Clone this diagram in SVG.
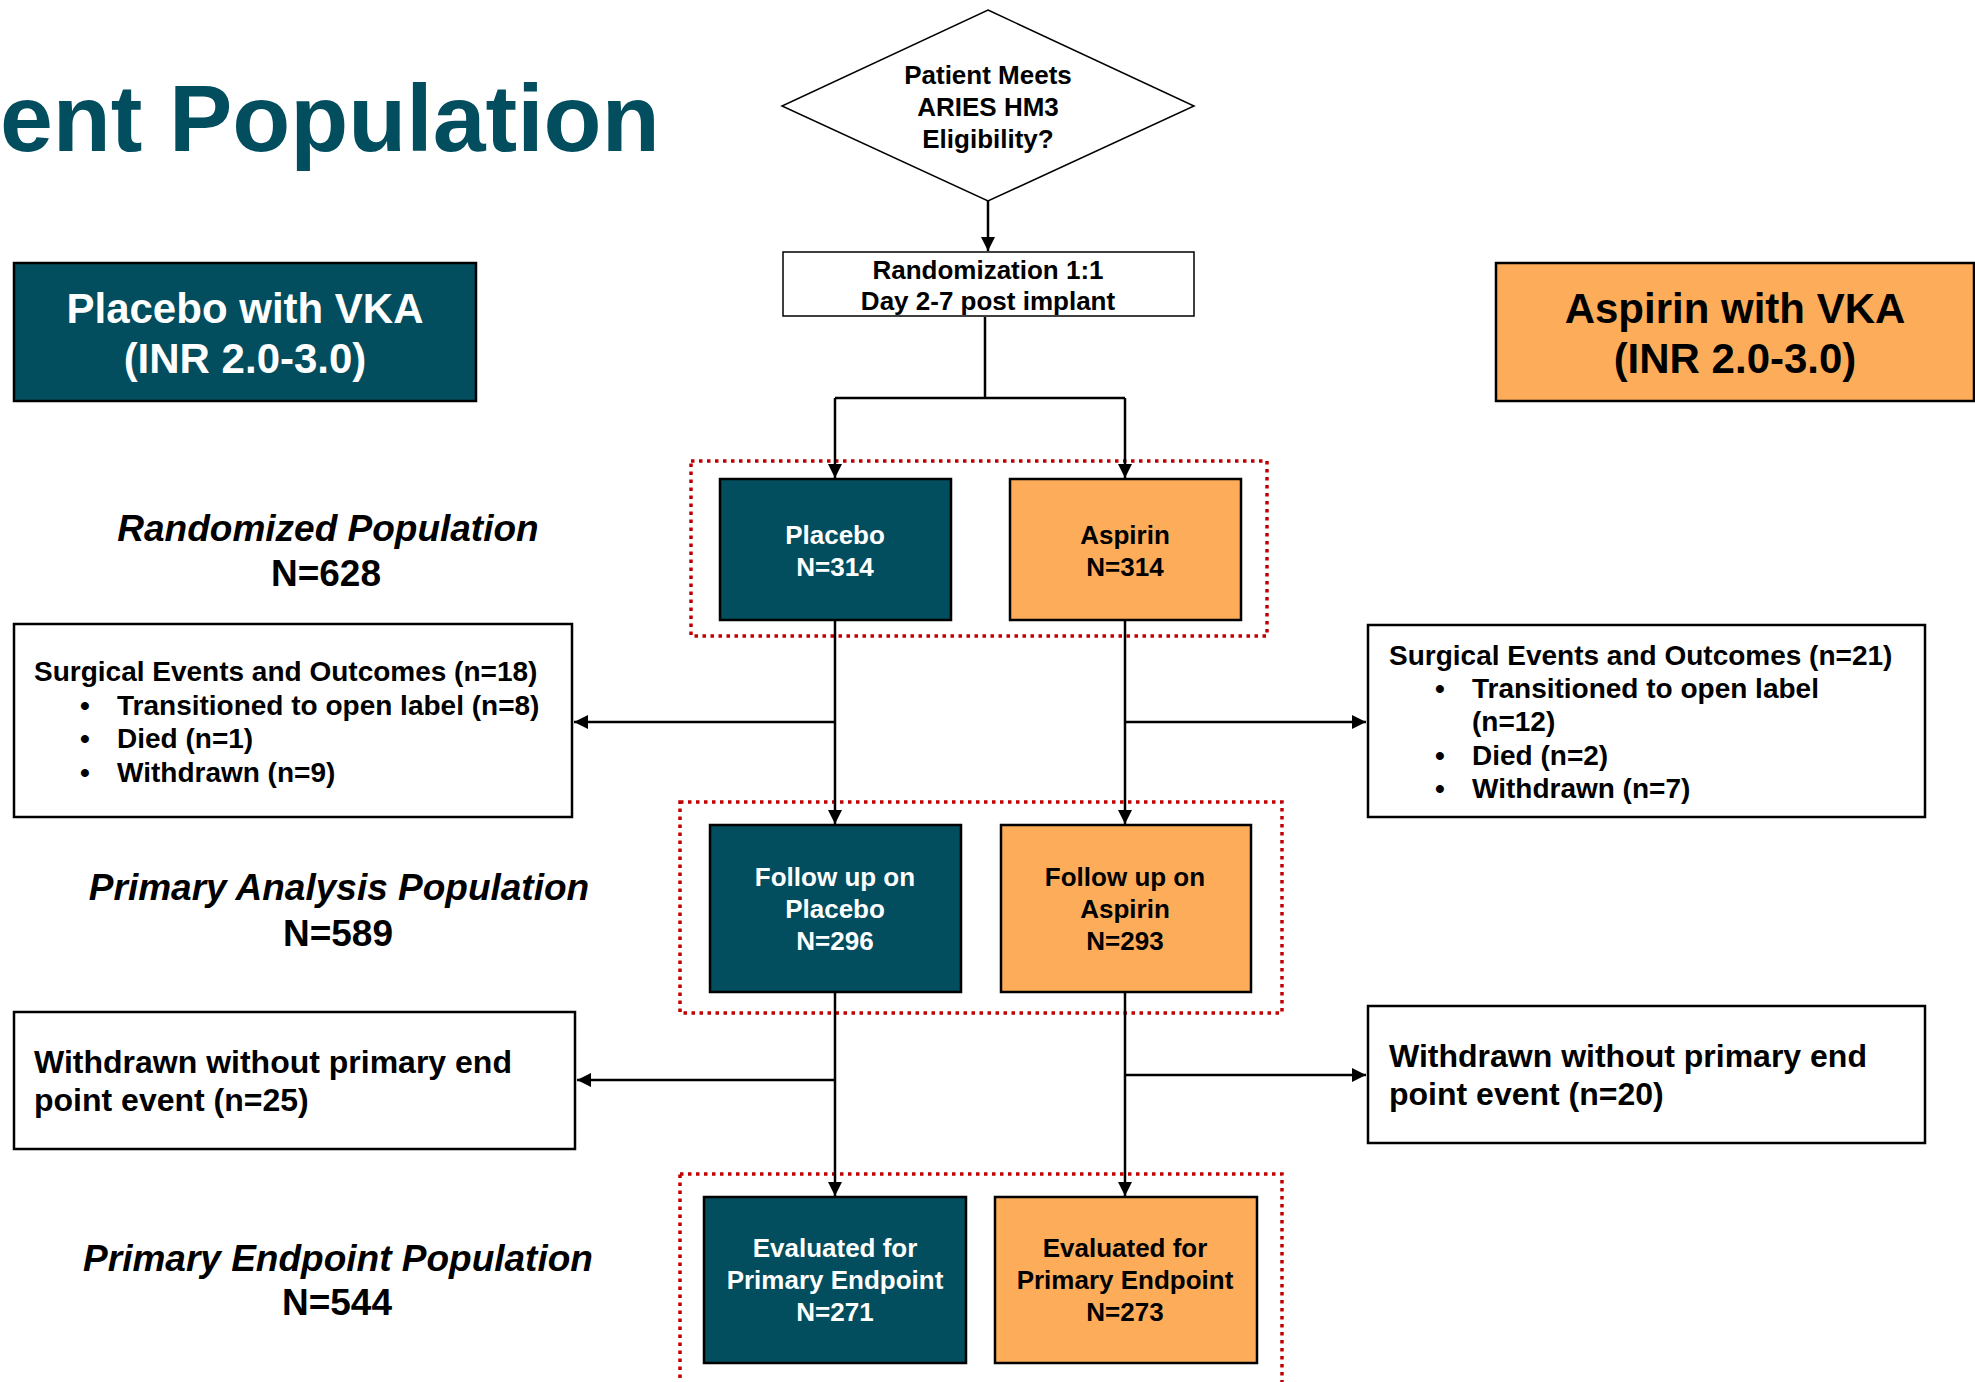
<svg xmlns="http://www.w3.org/2000/svg" width="1975" height="1382" viewBox="0 0 1975 1382">
<defs>
<marker id="arr" viewBox="0 0 10 10" refX="10" refY="5" markerWidth="14" markerHeight="14" markerUnits="userSpaceOnUse" orient="auto">
<path d="M0,0 L10,5 L0,10 z" fill="#000"/>
</marker>
<style>
text{font-family:"Liberation Sans",Arial,sans-serif;font-weight:bold;}
.teal{fill:#024E5F;stroke:#000;stroke-width:2.5;}
.orange{fill:#FDAD5A;stroke:#000;stroke-width:2.5;}
.white{fill:#fff;stroke:#000;stroke-width:2.5;}
.thin{fill:#fff;stroke:#000;stroke-width:1.5;}
.dot{fill:none;stroke:#C00000;stroke-width:3.5;stroke-dasharray:3.5 4.5;}
.tw{fill:#fff;text-anchor:middle;font-size:26px;}
.tb{fill:#000;text-anchor:middle;font-size:26px;}
.lab{fill:#000;text-anchor:middle;font-size:37px;}
.it{font-style:italic;}
.box{fill:#000;font-size:28px;}
.wd{fill:#000;font-size:32px;}
.conn{fill:none;stroke:#000;stroke-width:2.5;}
</style>
</defs>
<rect width="1975" height="1382" fill="#fff"/>

<text id="title" x="0" y="151" font-size="95" fill="#024E5F">ent Population</text>

<g id="group-randomized"><rect class="dot" x="691" y="461" width="576" height="175"/></g>
<g id="group-analysis"><rect class="dot" x="680" y="802" width="602" height="211"/></g>
<g id="group-endpoint"><rect class="dot" x="680" y="1174" width="602" height="240"/></g>

<g id="placebo-vka">
<rect class="teal" x="14" y="263" width="462" height="138"/>
<text x="245" y="323" fill="#fff" font-size="42" text-anchor="middle">Placebo with VKA</text>
<text x="245" y="373" fill="#fff" font-size="42" text-anchor="middle">(INR 2.0-3.0)</text>
</g>

<g id="aspirin-vka">
<rect class="orange" x="1496" y="263" width="478" height="138"/>
<text x="1735" y="323" fill="#000" font-size="42" text-anchor="middle">Aspirin with VKA</text>
<text x="1735" y="373" fill="#000" font-size="42" text-anchor="middle">(INR 2.0-3.0)</text>
</g>

<g id="eligibility">
<polygon class="thin" points="988,10 1194,106 988,201 782,106"/>
<text class="tb" x="988" y="84">Patient Meets</text>
<text class="tb" x="988" y="116">ARIES HM3</text>
<text class="tb" x="988" y="148">Eligibility?</text>
</g>

<g id="randomization">
<rect class="thin" x="783" y="252" width="411" height="64"/>
<text class="tb" x="988" y="279">Randomization 1:1</text>
<text class="tb" x="988" y="310">Day 2-7 post implant</text>
</g>

<g id="label-randomized">
<text class="lab it" x="328" y="541">Randomized Population</text>
<text class="lab" x="326" y="586">N=628</text>
</g>
<g id="label-analysis">
<text class="lab it" x="339" y="900">Primary Analysis Population</text>
<text class="lab" x="338" y="946">N=589</text>
</g>
<g id="label-endpoint">
<text class="lab it" x="338" y="1271">Primary Endpoint Population</text>
<text class="lab" x="337" y="1315">N=544</text>
</g>

<g id="placebo">
<rect class="teal" x="720" y="479" width="231" height="141"/>
<text class="tw" x="835" y="544">Placebo</text>
<text class="tw" x="835" y="576">N=314</text>
</g>
<g id="aspirin">
<rect class="orange" x="1010" y="479" width="231" height="141"/>
<text class="tb" x="1125" y="544">Aspirin</text>
<text class="tb" x="1125" y="576">N=314</text>
</g>

<g id="surgical-left">
<rect class="white" x="14" y="624" width="558" height="193"/>
<text class="box" x="34" y="681">Surgical Events and Outcomes (n=18)</text>
<text class="box" x="80" y="715">•</text><text class="box" x="117" y="715">Transitioned to open label (n=8)</text>
<text class="box" x="80" y="748">•</text><text class="box" x="117" y="748">Died (n=1)</text>
<text class="box" x="80" y="782">•</text><text class="box" x="117" y="782">Withdrawn (n=9)</text>
</g>

<g id="surgical-right">
<rect class="white" x="1368" y="625" width="557" height="192"/>
<text class="box" x="1389" y="665">Surgical Events and Outcomes (n=21)</text>
<text class="box" x="1435" y="698">•</text><text class="box" x="1472" y="698">Transitioned to open label</text>
<text class="box" x="1472" y="731">(n=12)</text>
<text class="box" x="1435" y="765">•</text><text class="box" x="1472" y="765">Died (n=2)</text>
<text class="box" x="1435" y="798">•</text><text class="box" x="1472" y="798">Withdrawn (n=7)</text>
</g>

<g id="followup-placebo">
<rect class="teal" x="710" y="825" width="251" height="167"/>
<text class="tw" x="835" y="886">Follow up on</text>
<text class="tw" x="835" y="918">Placebo</text>
<text class="tw" x="835" y="950">N=296</text>
</g>
<g id="followup-aspirin">
<rect class="orange" x="1001" y="825" width="250" height="167"/>
<text class="tb" x="1125" y="886">Follow up on</text>
<text class="tb" x="1125" y="918">Aspirin</text>
<text class="tb" x="1125" y="950">N=293</text>
</g>

<g id="withdrawn-left">
<rect class="white" x="14" y="1012" width="561" height="137"/>
<text class="wd" x="34" y="1073">Withdrawn without primary end</text>
<text class="wd" x="34" y="1111">point event (n=25)</text>
</g>
<g id="withdrawn-right">
<rect class="white" x="1368" y="1006" width="557" height="137"/>
<text class="wd" x="1389" y="1067">Withdrawn without primary end</text>
<text class="wd" x="1389" y="1105">point event (n=20)</text>
</g>

<g id="eval-placebo">
<rect class="teal" x="704" y="1197" width="262" height="166"/>
<text class="tw" x="835" y="1257">Evaluated for</text>
<text class="tw" x="835" y="1289">Primary Endpoint</text>
<text class="tw" x="835" y="1321">N=271</text>
</g>
<g id="eval-aspirin">
<rect class="orange" x="995" y="1197" width="262" height="166"/>
<text class="tb" x="1125" y="1257">Evaluated for</text>
<text class="tb" x="1125" y="1289">Primary Endpoint</text>
<text class="tb" x="1125" y="1321">N=273</text>
</g>

<g id="connectors">
<path class="conn" d="M988,201 V251" marker-end="url(#arr)"/>
<path class="conn" d="M985,317 V398 M835,398 H1125"/>
<path class="conn" d="M835,398 V478" marker-end="url(#arr)"/>
<path class="conn" d="M1125,398 V478" marker-end="url(#arr)"/>
<path class="conn" d="M835,621 V824" marker-end="url(#arr)"/>
<path class="conn" d="M835,722 H574" marker-end="url(#arr)"/>
<path class="conn" d="M1125,621 V824" marker-end="url(#arr)"/>
<path class="conn" d="M1125,722 H1366" marker-end="url(#arr)"/>
<path class="conn" d="M835,993 V1196" marker-end="url(#arr)"/>
<path class="conn" d="M835,1080 H577" marker-end="url(#arr)"/>
<path class="conn" d="M1125,993 V1196" marker-end="url(#arr)"/>
<path class="conn" d="M1125,1075 H1366" marker-end="url(#arr)"/>
</g>
</svg>
